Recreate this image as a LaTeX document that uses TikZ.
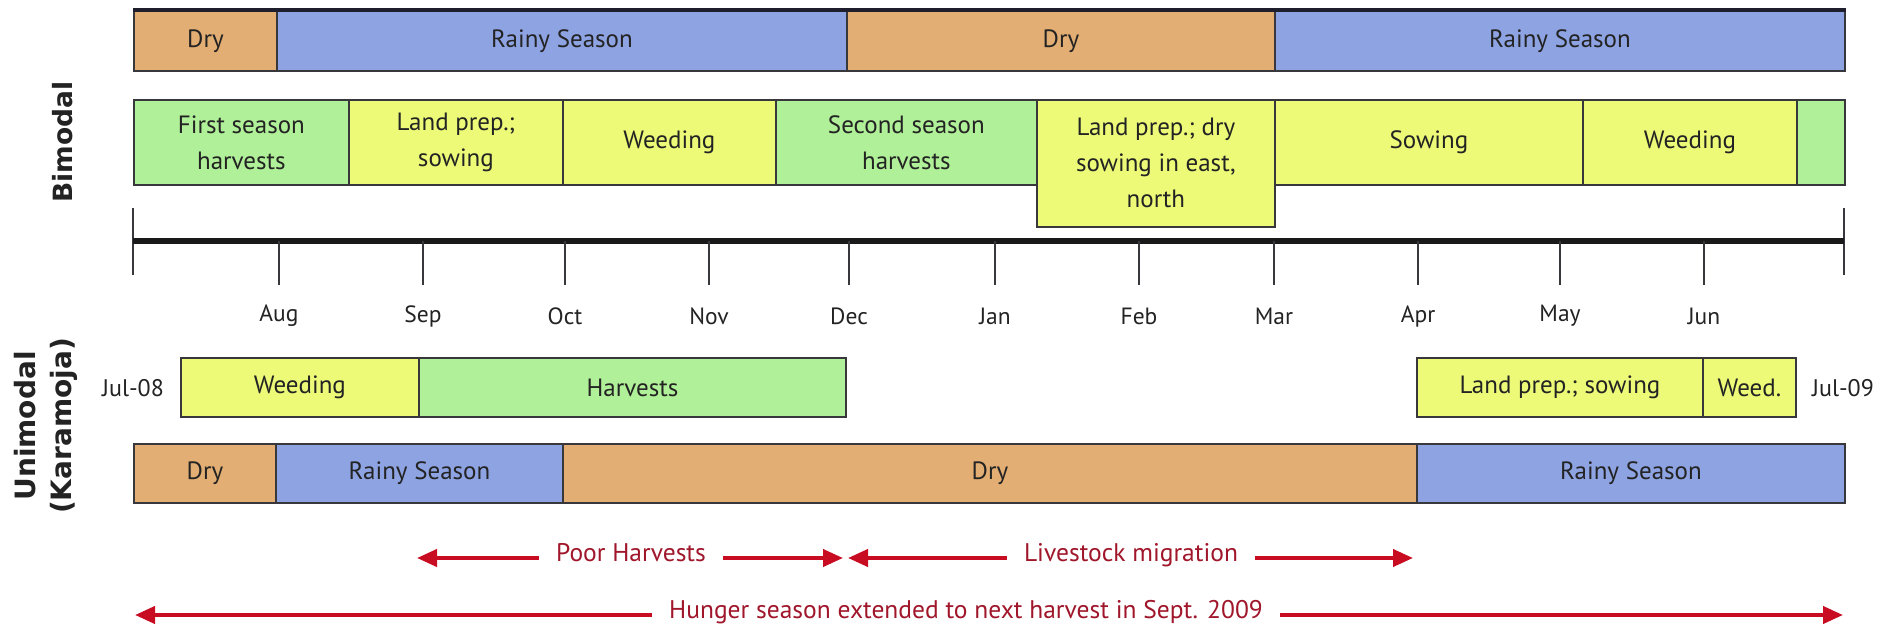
\documentclass[tikz,border=0pt]{standalone}
\usepackage{fontspec}
\setmainfont{PT Sans}
\newfontfamily\lblfont{DejaVu Sans}
\usetikzlibrary{arrows.meta}
\definecolor{drycol}{RGB}{227,174,116}
\definecolor{raincol}{RGB}{142,163,226}
\definecolor{greencol}{RGB}{176,240,152}
\definecolor{yelcol}{RGB}{236,250,120}
\definecolor{edgecol}{RGB}{55,55,60}
\definecolor{topedge}{RGB}{30,30,45}
\definecolor{txtcol}{RGB}{35,35,35}
\definecolor{redcol}{RGB}{200,12,34}
\definecolor{redtxt}{RGB}{160,22,42}
\newcommand{\mkseg}[7]{%
  \node[seg, fill=#6, minimum width={(#4-#2)*1pt}, minimum height={(#5-#3)*1pt},
        anchor=north west] (#1) at (#2,#3) {#7};}
\tikzset{
  seg/.style={draw=edgecol, line width=1.8pt, inner sep=0pt, text=txtcol,
              font=\fontsize{25}{36}\selectfont, align=center},
  monthlab/.style={text=txtcol, font=\fontsize{23.5}{28}\selectfont, inner sep=0pt},
  sidelab/.style={text=txtcol, font=\fontsize{24}{28}\selectfont, inner sep=0pt},
  ticklin/.style={draw=edgecol, line width=1.6pt},
  redlab/.style={text=redtxt, font=\fontsize{25.5}{30}\selectfont, inner ysep=0pt,
                 inner xsep=17pt, text height=0.7em, text depth=0pt},
  redarr/.style={draw=redcol, line width=4pt,
                 -{Triangle[length=20pt,width=17pt]}},
  modelab/.style={text=txtcol, rotate=90, align=center, inner sep=0pt}
}
\begin{document}
\begin{tikzpicture}[x=1pt,y=-1pt]
\useasboundingbox[fill=white] (0,0) rectangle (1884,628);

% side labels
\node[modelab, font=\lblfont\bfseries\fontsize{26.5}{36}\selectfont] (bimodal) at (63,142) {Bimodal};
\node[modelab, font=\lblfont\bfseries\fontsize{28}{36}\selectfont] (unimodal) at (46,426) {Unimodal\\(Karamoja)};

% top season bar (bimodal)
\mkseg{bd1}{133}{10}{276}{70}{drycol}{Dry}
\mkseg{br1}{276}{10}{846}{70}{raincol}{Rainy Season}
\mkseg{bd2}{846}{10}{1274}{70}{drycol}{Dry}
\mkseg{br2}{1274}{10}{1844}{70}{raincol}{Rainy Season}
\draw[topedge, line width=3.5pt] (bd1.north west) -- (br2.north east);

% bimodal activities
\mkseg{ba1}{133}{99}{348}{184}{greencol}{First season\\harvests}
\mkseg{ba2}{348}{99}{562}{184}{yelcol}{Land prep.;\\sowing}
\mkseg{ba3}{562}{99}{775}{184}{yelcol}{Weeding}
\mkseg{ba4}{775}{99}{1036}{184}{greencol}{Second season\\harvests}
\mkseg{ba5}{1036}{99}{1274}{226}{yelcol}{Land prep.; dry\\sowing in east,\\north}
\mkseg{ba6}{1274}{99}{1582}{184}{yelcol}{Sowing}
\mkseg{ba7}{1582}{99}{1796}{184}{yelcol}{Weeding}
\mkseg{ba8}{1796}{99}{1844}{184}{greencol}{}

% timeline
\coordinate (tl) at (133,241);
\coordinate (tr) at (1844,241);
\draw[ticklin] (133,208) -- (133,275);
\draw[ticklin] (1844,208) -- (1844,275);
\draw[line width=6pt, color=black!90] (tl) -- (tr);
\foreach \x/\m in {279/Aug,423/Sep,565/Oct,709/Nov,849/Dec,995/Jan,1139/Feb,1274/Mar,1418/Apr,1560/May,1704/Jun}{
  \draw[ticklin] (\x,241) -- (\x,285);
  \node[monthlab] (m\m) at (\x,316) {\m};
}

% unimodal activities
\node[sidelab] (jul08) at (133,388) {Jul-08};
\node[sidelab] (jul09) at (1843,388) {Jul-09};
\mkseg{ua1}{180}{357}{418}{416}{yelcol}{Weeding}
\mkseg{ua2}{418}{357}{845}{416}{greencol}{Harvests}
\mkseg{ua3}{1416}{357}{1702}{416}{yelcol}{Land prep.; sowing}
\mkseg{ua4}{1702}{357}{1795}{416}{yelcol}{Weed.}

% unimodal seasons
\mkseg{ud1}{133}{443}{275}{502}{drycol}{Dry}
\mkseg{ur1}{275}{443}{562}{502}{raincol}{Rainy Season}
\mkseg{ud2}{562}{443}{1416}{502}{drycol}{Dry}
\mkseg{ur2}{1416}{443}{1844}{502}{raincol}{Rainy Season}

% red arrows
\coordinate (phl) at (417,558);
\coordinate (phr) at (843,558);
\node[redlab] (ph) at (631,558) {Poor Harvests};
\draw[redarr] (ph.west) -- (phl);
\draw[redarr] (ph.east) -- (phr);

\coordinate (lml) at (848,558);
\coordinate (lmr) at (1413,558);
\node[redlab] (lm) at (1131,558) {Livestock migration};
\draw[redarr] (lm.west) -- (lml);
\draw[redarr] (lm.east) -- (lmr);

\coordinate (hsl) at (135,615);
\coordinate (hsr) at (1843,615);
\node[redlab] (hs) at (966,615) {Hunger season extended to next harvest in Sept. 2009};
\draw[redarr] (hs.west) -- (hsl);
\draw[redarr] (hs.east) -- (hsr);
\end{tikzpicture}
\end{document}
